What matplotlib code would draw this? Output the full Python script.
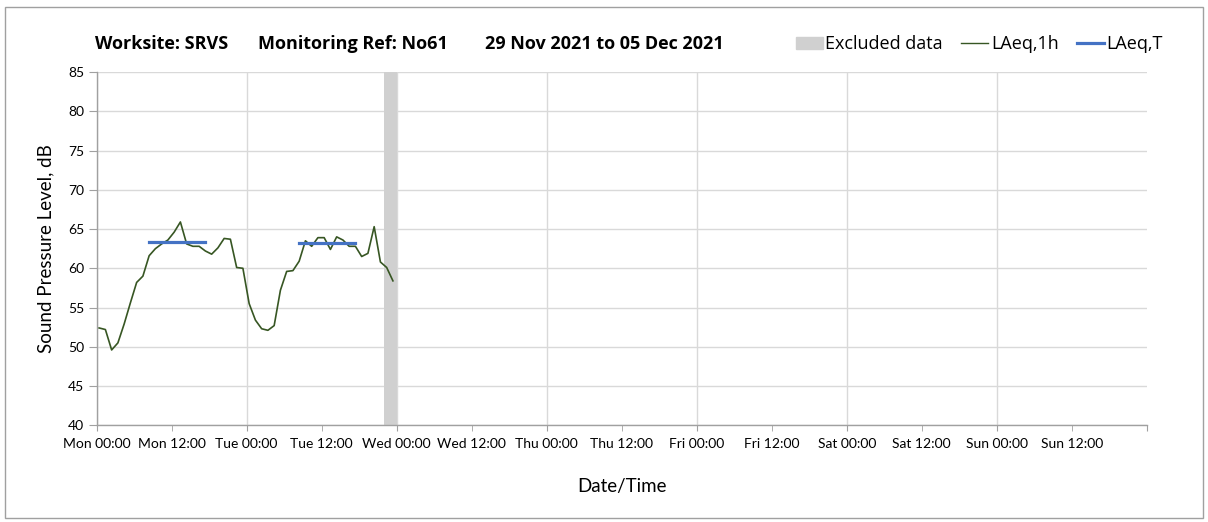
import numpy as np
import matplotlib
matplotlib.use("Agg")
import matplotlib.pyplot as plt
from matplotlib.patches import Patch, Rectangle
from matplotlib.lines import Line2D

plt.rcParams['font.family'] = ['Lato', 'DejaVu Sans']

# hourly LAeq,1h readings, logger starts Mon ~00:24
start_hour = 0.4
laeq_1h = [52.4, 52.2, 49.6, 50.5, 52.9, 55.6, 58.2, 59.0, 61.6, 62.5,
           63.1, 63.6, 64.6, 65.9, 63.1, 62.8, 62.8, 62.2, 61.8, 62.6,
           63.8, 63.7, 60.1, 60.0, 55.5, 53.4, 52.3, 52.1, 52.7, 57.2,
           59.6, 59.7, 60.9, 63.5, 62.8, 63.9, 63.9, 62.4, 64.0, 63.6,
           62.8, 62.8, 61.5, 61.9, 65.3, 60.8, 60.1, 58.4]

# LAeq,T over daytime periods (hour index of first / last reading)
laeqT_start = [8, 32]
laeqT_end = [17, 41]
laeqT_value = [63.4, 63.2]

# excluded period (hours from Mon 00:00)
excl_start = 46
excl_end = 48

days = ['Mon', 'Tue', 'Wed', 'Thu', 'Fri', 'Sat', 'Sun']
major_labels = [d + ' 00:00' for d in days] + ['']
minor_labels = [d + ' 12:00' for d in days]

title_parts = ['Worksite: SRVS', 'Monitoring Ref: No61', '29 Nov 2021 to 05 Dec 2021']

hours = start_hour + np.arange(len(laeq_1h))

fig = plt.figure(figsize=(12.08, 5.22), dpi=100)
ax = fig.add_axes([0.080, 0.1852, 0.8693, 0.6769])

ax.axvspan(excl_start, excl_end, color='#d0d0d0', lw=0, zorder=1)
ax.plot(hours, laeq_1h, color='#375623', lw=1.2, zorder=3)
for s, e, v in zip(laeqT_start, laeqT_end, laeqT_value):
    ax.plot([hours[s], hours[e]], [v, v], color='#4472C4', lw=2.3, zorder=4)

ax.set_xlim(0, 168)
ax.set_ylim(40, 85)
ax.set_yticks(np.arange(40, 86, 5))
ax.set_xticks(np.arange(0, 169, 24))
ax.set_xticklabels(major_labels)
ax.set_xticks(np.arange(12, 168, 24), minor=True)
ax.set_xticklabels(minor_labels, minor=True)

ax.grid(True, which='major', color='#d9d9d9', lw=1.0, zorder=0)
ax.get_xgridlines()[-1].set_visible(False)
ax.set_axisbelow(True)
for sp in ['top', 'right']:
    ax.spines[sp].set_visible(False)
for sp in ['left', 'bottom']:
    ax.spines[sp].set_color('#a0a0a0')
    ax.spines[sp].set_linewidth(1.0)

ax.tick_params(axis='x', which='both', direction='out', length=4, color='#a0a0a0',
               labelsize=10, pad=5)
ax.tick_params(axis='y', direction='out', length=6, color='#a0a0a0', labelsize=10, pad=3)

ax.set_ylabel('Sound Pressure Level, dB', fontsize=13.5, labelpad=10)
ax.set_xlabel('Date/Time', fontsize=13.5, labelpad=20)

for x, txt in zip([0.0786, 0.2136, 0.4015], title_parts):
    fig.text(x, 0.915, txt, fontsize=13, fontweight='bold', va='center', ha='left',
             family=['Open Sans', 'DejaVu Sans'])

handles = [Patch(color='#d0d0d0'),
           Line2D([], [], color='#375623', lw=1.0),
           Line2D([], [], color='#4472C4', lw=2.3)]
fig.legend(handles, ['Excluded data', 'LAeq,1h', 'LAeq,T'], ncol=3,
           loc='center right', bbox_to_anchor=(0.976, 0.915), frameon=False,
           prop={'family': ['Open Sans', 'DejaVu Sans'], 'size': 13},
           handlelength=1.5, handletextpad=0.15, columnspacing=1.0)

fig.add_artist(Rectangle((0.004, 0.008), 0.992, 0.978, transform=fig.transFigure,
                         fill=False, edgecolor='#a0a0a0', lw=1.0))

fig.savefig('out.png', dpi=100)
